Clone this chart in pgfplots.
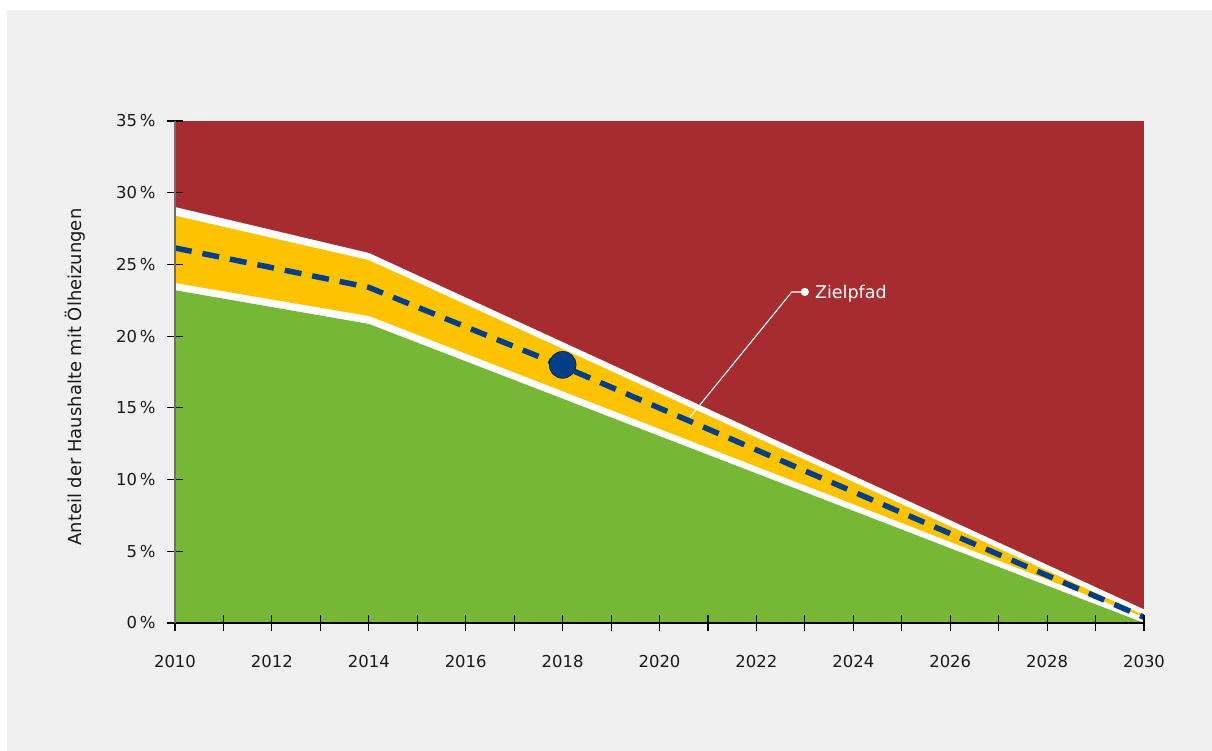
\documentclass[border=0pt]{standalone}
\usepackage{fontspec}
\setmainfont{DejaVu Sans}
\usepackage{pgfplots}
\pgfplotsset{compat=1.18}
\definecolor{bgGray}{HTML}{F0F0F0}
\definecolor{cRed}{HTML}{A72C30}
\definecolor{cYellow}{HTML}{FDC300}
\definecolor{cGreen}{HTML}{77B736}
\definecolor{cBlue}{HTML}{003F87}
\definecolor{axGray}{HTML}{6E6E6E}
\newcommand{\tfont}{\fontsize{16.5}{20}\selectfont}
\newcommand{\lfont}{\fontsize{18}{21}\selectfont}
\newcommand{\zfont}{\fontsize{17.6}{21}\selectfont}
\begin{document}
\begin{tikzpicture}[x=1bp,y=1bp]
\fill[white] (0,0) rectangle (1212,751);
\fill[bgGray] (7,0) rectangle (1212,741);
\begin{axis}[
  at={(175bp,128bp)}, anchor=south west,
  width=969bp, height=502bp, scale only axis,
  xmin=2010, xmax=2030, ymin=0, ymax=35,
  axis on top,
  axis x line=bottom, axis y line=left,
  x axis line style={-, black, line width=1.2bp},
  y axis line style={-, axGray, line width=1.6bp},
  tick align=center,
  major tick length=16bp, minor tick length=16bp,
  every tick/.style={black, line width=1.1bp},
  xtick={2010,2012,2014,2016,2018,2020,2022,2024,2026,2028,2030},
  xticklabels={2010,2012,2014,2016,2018,2020,2022,2024,2026,2028,2030},
  minor xtick={2011,2013,2015,2017,2019,2021,2023,2025,2027,2029},
  ytick={0,5,10,15,20,25,30,35},
  yticklabels={0\,\%,5\,\%,10\,\%,15\,\%,20\,\%,25\,\%,30\,\%,35\,\%},
  xticklabel style={font=\tfont, yshift=-21bp, text=black!90},
  yticklabel style={font=\tfont, xshift=-8bp, text=black!90},
  every axis y label/.style={at={(axis description cs:-0.1032,0.49)}, rotate=90, anchor=center, font=\lfont, text=black!90},
  ylabel={Anteil der Haushalte mit Ölheizungen},
]
% red background
\addplot[fill=cRed, draw=none] coordinates {(2010,0)(2010,35)(2030,35)(2030,0)} -- cycle;
% white upper band
\addplot[fill=white, draw=none] coordinates {(2010,0)(2010,29.0)(2014,25.8)(2030,0.95)(2030,0)} -- cycle;
% yellow corridor
\addplot[fill=cYellow, draw=none] coordinates {(2010,0)(2010,28.4)(2014,25.3)(2030,0.55)(2030,0)} -- cycle;
% white lower band
\addplot[fill=white, draw=none] coordinates {(2010,0)(2010,23.7)(2014,21.4)(2030,0.4)(2030,0)} -- cycle;
% green area
\addplot[fill=cGreen, draw=none] coordinates {(2010,0)(2010,23.2)(2014,20.85)(2030,0)} -- cycle;
% target path
\addplot[cBlue, line width=5.5bp, dash pattern=on 17bp off 11bp] coordinates {(2010,26.15)(2014,23.4)(2018,17.9)(2030,0.4)};
% 2018 point
\addplot[only marks, mark=*, mark size=13.5bp, mark options={fill=cBlue, draw=none}] coordinates {(2018,18.0)};
% annotation
\addplot[white, line width=1.1bp, mark=*, mark size=3.5bp, mark indices={3}, mark options={fill=white, draw=none}] coordinates {(2020.63,14.36)(2022.73,23.08)(2023.0,23.08)};
\node[anchor=west, text=white, inner sep=0pt, font=\zfont] at (axis cs:2023.0,22.95) {\hspace{10bp}Zielpfad};
\end{axis}
\end{tikzpicture}
\end{document}
